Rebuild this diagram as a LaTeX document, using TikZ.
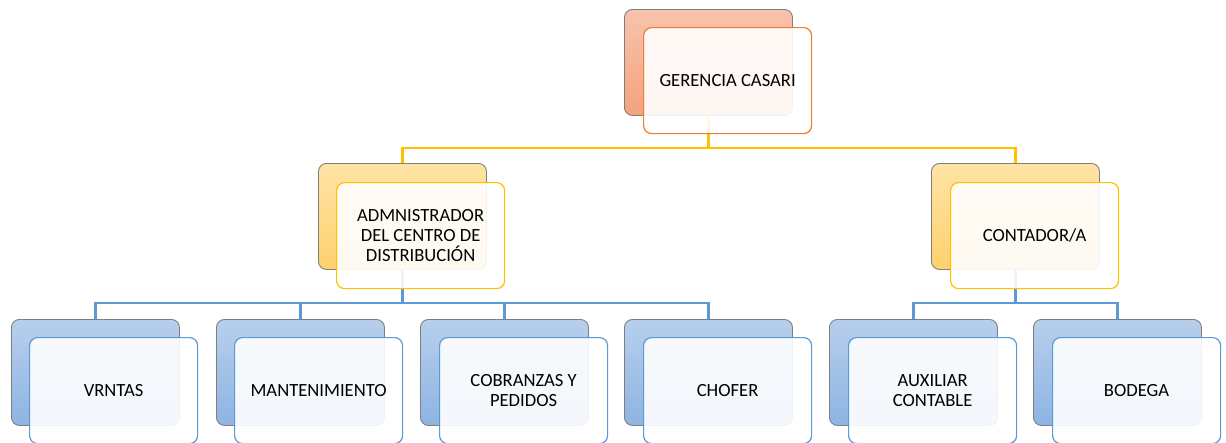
\documentclass[tikz,border=0pt]{standalone}
\usepackage{fontspec}
\setmainfont{Carlito}
\definecolor{orgA}{HTML}{F8C3AC}
\definecolor{orgB}{HTML}{F4A37E}
\definecolor{orgL}{HTML}{ED7D31}
\definecolor{yelA}{HTML}{FFE3A6}
\definecolor{yelB}{HTML}{FFD16E}
\definecolor{yelL}{HTML}{FFC000}
\definecolor{bluA}{HTML}{B7CFEC}
\definecolor{bluB}{HTML}{8EB4E3}
\definecolor{bluL}{HTML}{5B9BD5}
\definecolor{backL}{HTML}{7F7F7F}
\begin{document}
\begin{tikzpicture}[x=1pt,y=-1pt,
  box/.style={anchor=north west,minimum width=168pt,minimum height=106pt,rounded corners=8pt,inner sep=0pt,line width=1.2pt},
  backbox/.style={box,draw=backL,line width=0.9pt},
  orgback/.style={backbox,top color=orgA,bottom color=orgB},
  yelback/.style={backbox,top color=yelA,bottom color=yelB},
  bluback/.style={backbox,top color=bluA,bottom color=bluB},
  frontbox/.style={box,fill=white,fill opacity=0.9,text opacity=1,align=center,font=\fontsize{18.6}{20}\selectfont},
  orgfront/.style={frontbox,draw=orgL},
  yelfront/.style={frontbox,draw=yelL},
  blufront/.style={frontbox,draw=bluL},
  yline/.style={draw=yelL,line width=2.6pt},
  bline/.style={draw=bluL,line width=2.6pt}]
\useasboundingbox (0,0) rectangle (1226,442);
\coordinate (ybus) at (0,148);
\coordinate (lbus) at (0,303);
% back boxes
\node[orgback] (gB) at (624,9) {};
\node[yelback] (aB) at (318,163) {};
\node[yelback] (cB) at (931,163) {};
\node[bluback] (vB) at (11,319) {};
\node[bluback] (mB) at (216,319) {};
\node[bluback] (pB) at (420,319) {};
\node[bluback] (hB) at (624,319) {};
\node[bluback] (xB) at (829,319) {};
\node[bluback] (bB) at (1033,319) {};
% connectors
\draw[yline] (gB.south) -- (gB.south |- ybus) -| (aB.north);
\draw[yline] (gB.south |- ybus) -| (cB.north);
\draw[bline] (aB.south) -- (aB.south |- lbus) -| (vB.north);
\draw[bline] (aB.south |- lbus) -| (mB.north);
\draw[bline] (aB.south |- lbus) -| (pB.north);
\draw[bline] (aB.south |- lbus) -| (hB.north);
\draw[bline] (cB.south) -- (cB.south |- lbus) -| (xB.north);
\draw[bline] (cB.south |- lbus) -| (bB.north);
% front boxes
\node[orgfront] (gF) at (643,27) {GERENCIA CASARI};
\node[yelfront] (aF) at (336,182) {ADMNISTRADOR\\DEL CENTRO DE\\DISTRIBUCIÓN};
\node[yelfront] (cF) at (950,182) {CONTADOR/A};
\node[blufront] (vF) at (29,337) {VRNTAS};
\node[blufront] (mF) at (234,337) {MANTENIMIENTO};
\node[blufront] (pF) at (439,337) {COBRANZAS Y\\PEDIDOS};
\node[blufront] (hF) at (643,337) {CHOFER};
\node[blufront] (xF) at (848,337) {AUXILIAR\\CONTABLE};
\node[blufront] (bF) at (1052,337) {BODEGA};
\end{tikzpicture}
\end{document}
